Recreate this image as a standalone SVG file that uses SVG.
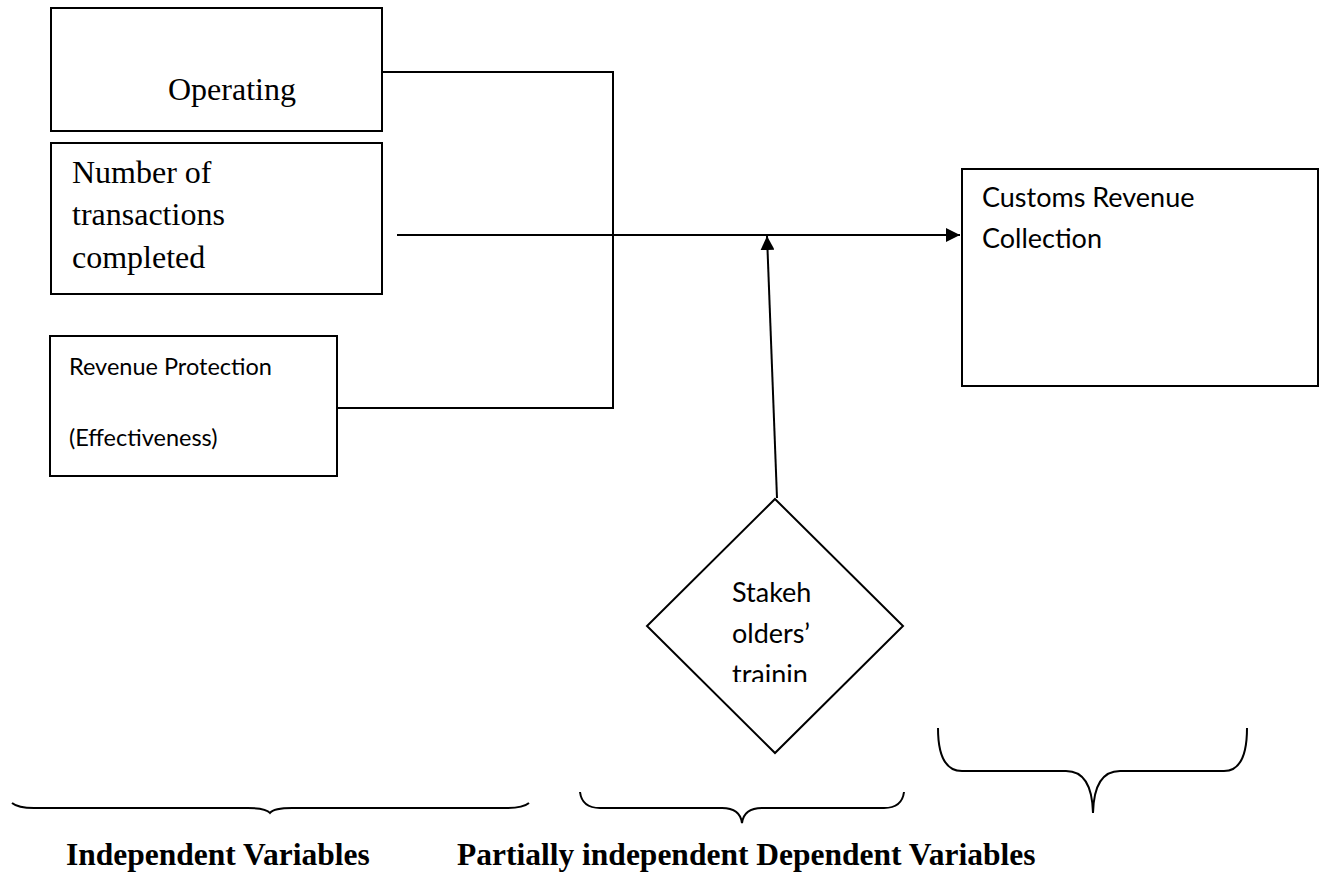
<svg xmlns="http://www.w3.org/2000/svg" width="1326" height="875" viewBox="0 0 1326 875">
<style>
.box{fill:#fff;stroke:#000;stroke-width:2}
.ln{fill:none;stroke:#000;stroke-width:2}
.br{fill:none;stroke:#000;stroke-width:2}
.serif{font-family:"Liberation Serif","Times New Roman",serif;font-size:32px;fill:#000}
.sans{font-family:Lato,"Liberation Sans",sans-serif;font-size:23.5px;fill:#000}
.sans2{font-family:Lato,"Liberation Sans",sans-serif;font-size:27px;fill:#000}
.lbl{font-family:"Liberation Serif","Times New Roman",serif;font-size:31.5px;font-weight:bold;fill:#000}
</style>
<defs>
<marker id="ah" viewBox="0 0 10 10" refX="10" refY="5" markerWidth="14" markerHeight="14" markerUnits="userSpaceOnUse" orient="auto">
<path d="M0,0 L10,5 L0,10 Z" fill="#000"/>
</marker>
<clipPath id="dclip"><rect x="640" y="560" width="280" height="122"/></clipPath>
</defs>
<g id="connectors">
<polyline class="ln" points="382,72 613,72 613,408 337,408"/>
<line class="ln" x1="397" y1="235" x2="960" y2="235" marker-end="url(#ah)"/>
<line class="ln" x1="777" y1="498" x2="767" y2="236" marker-end="url(#ah)"/>
</g>
<g id="n-operating">
<rect class="box" x="51" y="8" width="331" height="123"/>
<text class="serif" x="168" y="100">Operating</text>
</g>
<g id="n-transactions">
<rect class="box" x="51" y="143" width="331" height="151"/>
<text class="serif" x="72" y="183">Number of</text>
<text class="serif" x="72" y="225">transactions</text>
<text class="serif" x="72" y="268">completed</text>
</g>
<g id="n-revenue-protection">
<rect class="box" x="50" y="336" width="287" height="140"/>
<text class="sans" x="69" y="375">Revenue Protection</text>
<text class="sans" x="69" y="446">(Effectiveness)</text>
</g>
<g id="n-customs">
<rect class="box" x="962" y="169" width="356" height="217"/>
<text class="sans2" x="982" y="207">Customs Revenue</text>
<text class="sans2" x="982" y="248">Collection</text>
</g>
<g id="n-stakeholders">
<polygon class="box" points="775,499 903,626 775,753 647,626"/>
<g clip-path="url(#dclip)">
<text class="sans2" x="732" y="602">Stakeh</text>
<text class="sans2" x="732" y="643">olders’</text>
<text class="sans2" x="732" y="684">trainin</text>
</g>
</g>
<g id="braces">
<path class="br" d="M12,803 Q18,808 34,808 L248,808 Q266,808 270,813 Q274,808 292,808 L507,808 Q523,808 529,803"/>
<path class="br" d="M580,792 Q582,808 600,808 L722,808 Q740,808 742,823 Q744,808 762,808 L884,808 Q902,808 904,792"/>
<path class="br" d="M938,728 Q938,771 962,771 L1066,771 Q1092,771 1093,813 Q1094,771 1120,771 L1224,771 Q1247,771 1247,728"/>
</g>
<g id="labels">
<text class="lbl" x="66" y="865">Independent Variables</text>
<text class="lbl" x="457" y="865">Partially independent Dependent Variables</text>
</g>
</svg>
